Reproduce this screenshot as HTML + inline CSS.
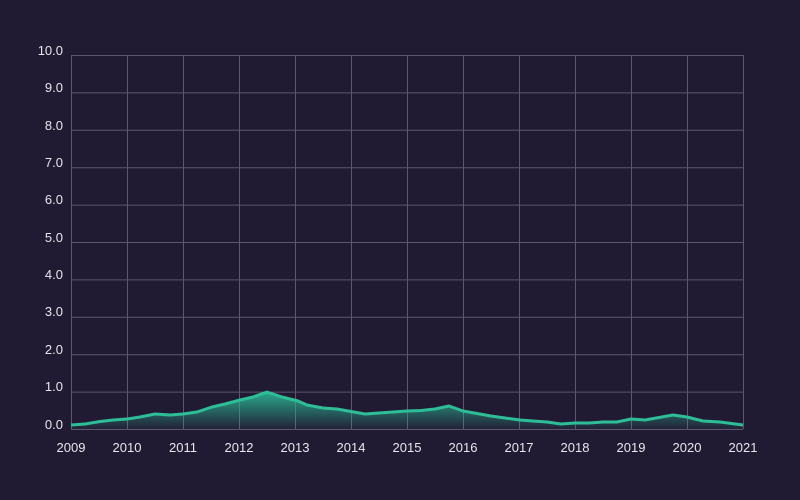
<!DOCTYPE html>
<html><head><style>body{margin:0;background:#211a33;}svg{display:block}</style></head><body>
<svg width="800" height="500" xmlns="http://www.w3.org/2000/svg" font-family="Liberation Sans, sans-serif">
<rect width="800" height="500" fill="#211a33"/>
<defs><linearGradient id="g" x1="0" y1="392" x2="0" y2="429" gradientUnits="userSpaceOnUse"><stop offset="0" stop-color="#2bb895" stop-opacity="0.9"/><stop offset="1" stop-color="#2bb895" stop-opacity="0.05"/></linearGradient></defs>
<g stroke="#5e566f" stroke-width="1">
<line x1="71" y1="55.5" x2="743" y2="55.5"/><line x1="71" y1="92.9" x2="743" y2="92.9"/><line x1="71" y1="130.3" x2="743" y2="130.3"/><line x1="71" y1="167.7" x2="743" y2="167.7"/><line x1="71" y1="205.1" x2="743" y2="205.1"/><line x1="71" y1="242.5" x2="743" y2="242.5"/><line x1="71" y1="279.9" x2="743" y2="279.9"/><line x1="71" y1="317.3" x2="743" y2="317.3"/><line x1="71" y1="354.7" x2="743" y2="354.7"/><line x1="71" y1="392.1" x2="743" y2="392.1"/><line x1="71" y1="429.5" x2="743" y2="429.5"/>
<line x1="71.5" y1="55" x2="71.5" y2="429"/><line x1="127.5" y1="55" x2="127.5" y2="429"/><line x1="183.5" y1="55" x2="183.5" y2="429"/><line x1="239.5" y1="55" x2="239.5" y2="429"/><line x1="295.5" y1="55" x2="295.5" y2="429"/><line x1="351.5" y1="55" x2="351.5" y2="429"/><line x1="407.5" y1="55" x2="407.5" y2="429"/><line x1="463.5" y1="55" x2="463.5" y2="429"/><line x1="519.5" y1="55" x2="519.5" y2="429"/><line x1="575.5" y1="55" x2="575.5" y2="429"/><line x1="631.5" y1="55" x2="631.5" y2="429"/><line x1="687.5" y1="55" x2="687.5" y2="429"/><line x1="743.5" y1="55" x2="743.5" y2="429"/>
</g>
<polygon fill="url(#g)" points="71,429 71,425 85,424 100,421.5 113,420 127,419 140,417 155,414 170,415 183,414 197,412 212,407 225,404 240,400 253,397 267,392 282,397 298,401 307,405 323,408 337,409 351,411.5 365,414 379,413 393,412 407,411 421,410.5 435,409 449,406 463,411 477,413.5 491,416 505,418 520,420 533,421 547,422 561,424 575,423 589,423 603,422 617,422 631,419 645,420 659,417.5 673,415 687,417 703,421 720,422 743,425 743,429"/>
<polyline fill="none" stroke="#2dbe98" stroke-width="3" stroke-linejoin="round" points="71,425 85,424 100,421.5 113,420 127,419 140,417 155,414 170,415 183,414 197,412 212,407 225,404 240,400 253,397 267,392 282,397 298,401 307,405 323,408 337,409 351,411.5 365,414 379,413 393,412 407,411 421,410.5 435,409 449,406 463,411 477,413.5 491,416 505,418 520,420 533,421 547,422 561,424 575,423 589,423 603,422 617,422 631,419 645,420 659,417.5 673,415 687,417 703,421 720,422 743,425"/>
<g fill="#e8e6ee" font-size="13" text-anchor="end">
<text x="63" y="55">10.0</text><text x="63" y="92">9.0</text><text x="63" y="130">8.0</text><text x="63" y="167">7.0</text><text x="63" y="204">6.0</text><text x="63" y="242">5.0</text><text x="63" y="279">4.0</text><text x="63" y="316">3.0</text><text x="63" y="354">2.0</text><text x="63" y="391">1.0</text><text x="63" y="429">0.0</text>
</g>
<g fill="#e8e6ee" font-size="13" text-anchor="middle">
<text x="71" y="452">2009</text><text x="127" y="452">2010</text><text x="183" y="452">2011</text><text x="239" y="452">2012</text><text x="295" y="452">2013</text><text x="351" y="452">2014</text><text x="407" y="452">2015</text><text x="463" y="452">2016</text><text x="519" y="452">2017</text><text x="575" y="452">2018</text><text x="631" y="452">2019</text><text x="687" y="452">2020</text><text x="743" y="452">2021</text>
</g>
</svg>
</body></html>
